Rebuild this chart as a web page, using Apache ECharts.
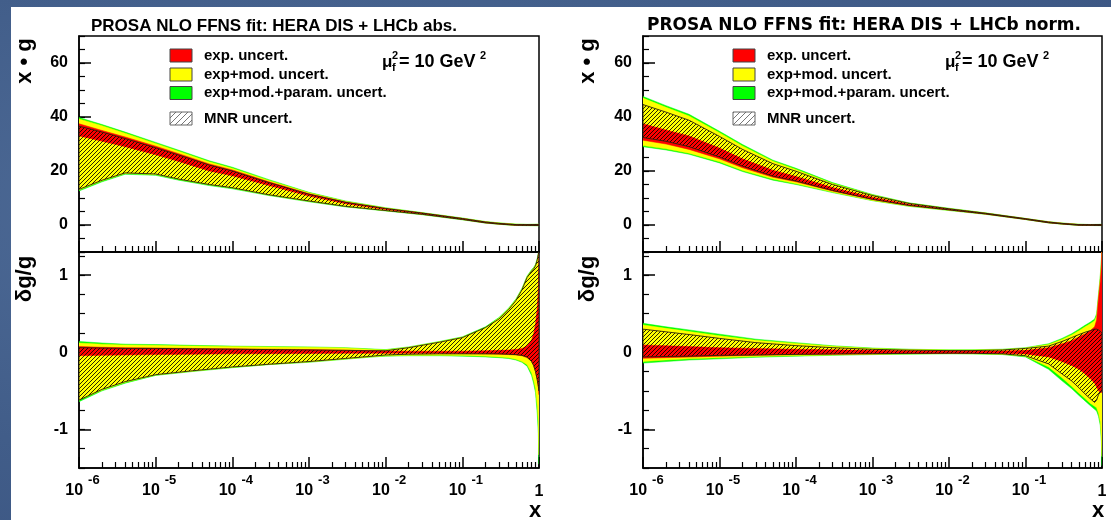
<!DOCTYPE html>
<html>
<head>
<meta charset="utf-8">
<script src="https://cdn.jsdelivr.net/npm/echarts@6/dist/echarts.min.js"></script>
<style>
  html, body { margin: 0; padding: 0; }
  body {
    width: 1111px; height: 520px; overflow: hidden; position: relative;
    background: radial-gradient(ellipse at 30% 40%, #506d99 0%, #415d89 60%, #3b5582 100%);
  }
  #paper { position: absolute; left: 11px; top: 7px; width: 1100px; height: 513px; background: #fff; }
  #chart { position: absolute; left: 0; top: 0; width: 1111px; height: 520px; }
</style>
</head>
<body>
<div id="paper"></div>
<div id="chart"></div>
<script>
  // x sampling of the two plot rows
  const xTop = [1e-6, 2e-6, 4e-6, 1e-5, 2e-5, 5e-5, 1e-4, 3e-4, 1e-3, 3e-3, 1e-2, 3e-2, 0.1, 0.2, 0.3, 0.5, 0.7, 1]
  const xBot = [1e-6, 2e-6, 4e-6, 1e-5, 3e-5, 1e-4, 3e-4, 1e-3, 3e-3, 6e-3, 1e-2, 2e-2, 5e-2, 0.1, 0.2, 0.3, 0.4, 0.5, 0.6, 0.7, 0.8, 0.85, 0.9, 0.95, 0.98, 1]

  // x*g bands [lo, hi], HERA DIS + LHCb abs.
  const absTopGreen = [[12.6,39.8],[16.0,37.2],[18.8,34.4],[18.4,30.6],[16.6,27.7],[14.6,23.8],[13.4,21.4],[10.9,16.8],[8.6,12.1],[6.7,8.9],[5.2,6.4],[3.8,4.6],[1.9,2.6],[0.7,1.3],[0.25,0.8],[-0.2,0.35],[-0.25,0.25],[-0.3,0.3]]
  const absTopYellow = [[13.0,39.3],[16.4,36.8],[19.1,34.0],[18.7,30.2],[16.9,27.3],[14.9,23.4],[13.7,21.0],[11.1,16.5],[8.8,11.9],[6.85,8.75],[5.3,6.3],[3.9,4.5],[2.0,2.5],[0.75,1.25],[0.3,0.75],[-0.15,0.3],[-0.2,0.2],[-0.25,0.25]]
  const absTopRed = [[33.0,37.5],[31.0,35.0],[29.0,32.6],[26.0,29.2],[23.5,26.4],[20.0,22.6],[18.2,20.4],[14.6,16.0],[10.7,11.6],[7.9,8.5],[5.7,6.1],[4.1,4.4],[2.15,2.4],[0.85,1.1],[0.4,0.6],[-0.05,0.15],[-0.1,0.1],[-0.15,0.15]]
  const absTopMnr = [[13.2,36.6],[16.6,34.4],[19.3,32.0],[18.9,28.6],[17.0,25.9],[15.0,22.2],[13.8,20.0],[11.2,15.7],[8.9,11.4],[6.9,8.4],[5.35,6.1],[3.95,4.4],[2.05,2.4],[0.8,1.1],[0.35,0.6],[-0.1,0.15],[-0.15,0.15],[-0.2,0.2]]

  // x*g bands, HERA DIS + LHCb norm.
  const normTopGreen = [[29.0,47.6],[27.8,44.2],[26.2,41.0],[23.0,34.7],[19.8,29.8],[16.6,24.0],[15.0,21.0],[12.0,15.7],[9.0,11.3],[6.9,8.2],[5.35,6.2],[3.95,4.5],[2.0,2.45],[0.75,1.25],[0.3,0.75],[-0.15,0.3],[-0.2,0.2],[-0.25,0.25]]
  const normTopYellow = [[29.4,47.0],[28.2,43.6],[26.6,40.4],[23.4,34.2],[20.2,29.3],[17.0,23.6],[15.3,20.6],[12.2,15.4],[9.1,11.1],[7.0,8.1],[5.45,6.1],[4.0,4.45],[2.05,2.4],[0.8,1.2],[0.35,0.7],[-0.1,0.25],[-0.15,0.15],[-0.2,0.2]]
  const normTopRed = [[31.4,37.5],[30.0,35.2],[28.0,33.0],[24.5,28.5],[21.2,24.5],[17.7,20.3],[16.0,18.0],[12.6,13.9],[9.4,10.3],[7.2,7.7],[5.6,5.9],[4.1,4.3],[2.1,2.3],[0.85,1.1],[0.4,0.6],[-0.05,0.15],[-0.1,0.1],[-0.15,0.15]]
  const normTopMnr = [[32.4,44.6],[31.0,41.8],[29.0,38.8],[25.2,32.8],[21.8,28.0],[18.1,22.7],[16.3,19.9],[12.8,15.0],[9.5,10.9],[7.25,8.0],[5.6,6.0],[4.1,4.35],[2.1,2.35],[0.85,1.1],[0.4,0.6],[-0.1,0.15],[-0.15,0.15],[-0.2,0.2]]

  // dg/g bands, abs.
  const absBotGreen = [[-0.64,0.14],[-0.50,0.12],[-0.40,0.105],[-0.30,0.10],[-0.25,0.09],[-0.20,0.08],[-0.16,0.075],[-0.13,0.07],[-0.09,0.06],[-0.065,0.045],[-0.05,0.035],[-0.045,0.07],[-0.045,0.14],[-0.05,0.20],[-0.06,0.33],[-0.07,0.45],[-0.08,0.57],[-0.10,0.69],[-0.13,0.83],[-0.18,0.99],[-0.30,1.07],[-0.40,1.10],[-0.52,1.14],[-0.80,1.22],[-1.05,1.28],[-1.45,1.36]]
  const absBotYellow = [[-0.62,0.12],[-0.49,0.105],[-0.39,0.095],[-0.295,0.09],[-0.245,0.082],[-0.195,0.075],[-0.158,0.07],[-0.125,0.065],[-0.086,0.055],[-0.062,0.04],[-0.046,0.03],[-0.04,0.065],[-0.038,0.135],[-0.042,0.195],[-0.05,0.32],[-0.06,0.44],[-0.07,0.56],[-0.09,0.68],[-0.12,0.82],[-0.16,0.98],[-0.27,1.06],[-0.36,1.09],[-0.47,1.13],[-0.70,1.21],[-0.90,1.27],[-1.33,1.35]]
  const absBotRed = [[-0.045,0.075],[-0.04,0.065],[-0.035,0.06],[-0.03,0.055],[-0.025,0.05],[-0.02,0.045],[-0.018,0.04],[-0.016,0.035],[-0.014,0.028],[-0.013,0.022],[-0.012,0.018],[-0.012,0.015],[-0.013,0.014],[-0.015,0.015],[-0.02,0.02],[-0.025,0.025],[-0.03,0.03],[-0.035,0.035],[-0.045,0.05],[-0.07,0.08],[-0.12,0.16],[-0.17,0.24],[-0.25,0.36],[-0.36,0.58],[-0.45,0.82],[-0.55,1.35]]
  const absBotMnr = [[-0.62,0.06],[-0.48,0.055],[-0.38,0.05],[-0.29,0.05],[-0.24,0.045],[-0.19,0.04],[-0.155,0.035],[-0.12,0.03],[-0.08,0.025],[-0.055,0.02],[-0.035,0.02],[-0.025,0.06],[-0.02,0.13],[-0.02,0.19],[-0.02,0.32],[-0.02,0.43],[-0.025,0.55],[-0.03,0.67],[-0.04,0.81],[-0.06,0.97],[-0.12,1.05],[-0.17,1.08],[-0.25,1.12],[-0.36,1.2],[-0.44,1.27],[-0.5,1.35]]

  // dg/g bands, norm.
  const normBotGreen = [[-0.14,0.375],[-0.12,0.33],[-0.10,0.29],[-0.085,0.235],[-0.065,0.17],[-0.05,0.125],[-0.04,0.085],[-0.03,0.055],[-0.024,0.04],[-0.022,0.035],[-0.02,0.032],[-0.022,0.033],[-0.03,0.04],[-0.06,0.06],[-0.22,0.11],[-0.37,0.18],[-0.47,0.24],[-0.56,0.3],[-0.63,0.35],[-0.69,0.39],[-0.74,0.43],[-0.76,0.5],[-0.83,0.75],[-0.95,1.0],[-1.15,1.2],[-1.47,1.35]]
  const normBotYellow = [[-0.12,0.355],[-0.10,0.31],[-0.085,0.27],[-0.07,0.215],[-0.055,0.155],[-0.043,0.115],[-0.035,0.078],[-0.026,0.05],[-0.02,0.036],[-0.019,0.032],[-0.017,0.03],[-0.019,0.03],[-0.026,0.036],[-0.05,0.055],[-0.19,0.1],[-0.33,0.165],[-0.44,0.225],[-0.53,0.28],[-0.6,0.33],[-0.66,0.37],[-0.7,0.41],[-0.72,0.47],[-0.79,0.72],[-0.9,0.97],[-1.1,1.17],[-1.35,1.33]]
  const normBotRed = [[-0.078,0.095],[-0.07,0.085],[-0.062,0.075],[-0.05,0.06],[-0.04,0.05],[-0.03,0.04],[-0.025,0.033],[-0.02,0.025],[-0.016,0.02],[-0.015,0.018],[-0.014,0.016],[-0.014,0.016],[-0.016,0.018],[-0.022,0.025],[-0.06,0.06],[-0.12,0.11],[-0.17,0.15],[-0.22,0.2],[-0.28,0.24],[-0.34,0.28],[-0.40,0.33],[-0.45,0.42],[-0.5,0.7],[-0.52,0.92],[-0.52,1.1],[-0.52,1.35]]
  const normBotMnr = [[-0.06,0.30],[-0.055,0.265],[-0.05,0.23],[-0.04,0.18],[-0.035,0.125],[-0.027,0.086],[-0.022,0.06],[-0.018,0.038],[-0.014,0.028],[-0.013,0.024],[-0.012,0.022],[-0.013,0.022],[-0.02,0.03],[-0.045,0.05],[-0.15,0.08],[-0.28,0.14],[-0.37,0.19],[-0.46,0.23],[-0.54,0.26],[-0.6,0.28],[-0.65,0.30],[-0.62,0.30],[-0.55,0.29],[-0.52,0.27],[-0.5,0.26],[-0.5,0.25]]

  // axis ticks and texts
  const decades = [1e-6, 1e-5, 1e-4, 1e-3, 1e-2, 1e-1, 1]
  const minorX = []
  decades.slice(0, -1).forEach(d => { for (let k = 2; k <= 9; k++) minorX.push(k * d) })
  const topTicks = [0, 20, 40, 60]
  const botTicks = [-1, 0, 1]
  const titles = ['PROSA NLO FFNS fit: HERA DIS + LHCb abs.', 'PROSA NLO FFNS fit: HERA DIS + LHCb norm.']
  const legendLabels = ['exp. uncert.', 'exp+mod. uncert.', 'exp+mod.+param. uncert.', 'MNR uncert.']

  const FF = '"Liberation Sans", Arial, Helvetica, sans-serif'
  const BLACK = '#000'

  // hatch for the MNR band
  function makeHatch(step, color, width) {
    const c = document.createElement('canvas')
    c.width = step; c.height = step
    const g = c.getContext('2d')
    g.strokeStyle = color
    g.lineWidth = width
    g.beginPath()
    g.moveTo(0, step); g.lineTo(step, 0)
    g.moveTo(-1, 1); g.lineTo(1, -1)
    g.moveTo(step - 1, step + 1); g.lineTo(step + 1, step - 1)
    g.stroke()
    return c
  }
  const hatchFill = { image: makeHatch(4, 'rgba(0,0,0,0.85)', 1), repeat: 'repeat' }
  const legendHatch = { image: makeHatch(6, '#777', 1), repeat: 'repeat' }

  const grids = [
    { left: 79, top: 36, width: 460, height: 216 },
    { left: 79, top: 252, width: 460, height: 216 },
    { left: 643, top: 36, width: 459, height: 216 },
    { left: 643, top: 252, width: 459, height: 216 }
  ].map(g => Object.assign(g, { show: true, borderColor: BLACK, borderWidth: 1.5, backgroundColor: 'transparent' }))

  const line = { color: BLACK, width: 1.5 }

  function xMain(grid, labels) {
    return {
      type: 'log', logBase: 10, gridIndex: grid, position: 'bottom', min: 1e-6, max: 1,
      axisLine: { show: true, onZero: false, lineStyle: line },
      axisTick: { show: true, inside: true, length: 11, customValues: decades, lineStyle: line },
      axisLabel: {
        show: labels, customValues: decades, margin: 14, hideOverlap: false,
        formatter: v => {
          const e = Math.round(Math.log10(v))
          return e === 0 ? '{o|1}' : '{b|10}{s|' + e + '}'
        },
        rich: {
          b: { fontSize: 16, fontWeight: 'bold', fontFamily: FF, color: BLACK, lineHeight: 18, padding: [0, 0, 0, 7] },
          s: { fontSize: 13, fontWeight: 'bold', fontFamily: FF, color: BLACK, lineHeight: 14, padding: [0, 0, 22, 5] },
          o: { fontSize: 16, fontWeight: 'bold', fontFamily: FF, color: BLACK, lineHeight: 20 }
        }
      },
      splitLine: { show: false }
    }
  }
  function xMinor(grid) {
    return {
      type: 'log', logBase: 10, gridIndex: grid, position: 'bottom', min: 1e-6, max: 1,
      axisLine: { show: false, onZero: false },
      axisTick: { show: true, inside: true, length: 6, customValues: minorX, lineStyle: { color: BLACK, width: 1.2 } },
      axisLabel: { show: false },
      splitLine: { show: false }
    }
  }
  function yMain(grid, min, max, ticks) {
    return {
      type: 'value', gridIndex: grid, position: 'left', min: min, max: max,
      axisLine: { show: true, onZero: false, lineStyle: line },
      axisTick: { show: true, inside: true, length: 12, customValues: ticks, lineStyle: line },
      axisLabel: { show: true, customValues: ticks, margin: 11, color: BLACK, fontSize: 16, fontWeight: 'bold', fontFamily: FF },
      splitLine: { show: false }
    }
  }
  function yMinor(grid, min, max, step) {
    return {
      type: 'value', gridIndex: grid, position: 'left', min: min, max: max, interval: step,
      axisLine: { show: false, onZero: false },
      axisTick: { show: true, inside: true, length: 6, lineStyle: { color: BLACK, width: 1.2 } },
      axisLabel: { show: false },
      splitLine: { show: false }
    }
  }

  const xAxis = [], yAxis = []
  for (let g = 0; g < 4; g++) {
    const bottomRow = g % 2 === 1
    xAxis.push(xMain(g, bottomRow), xMinor(g))
    if (bottomRow) yAxis.push(yMain(g, -1.5, 1.3, botTicks), yMinor(g, -1.5, 1.3, 0.25))
    else yAxis.push(yMain(g, -10, 70, topTicks), yMinor(g, -10, 70, 5))
  }

  function band(name, grid, xs, rows, fill, hatch) {
    return {
      type: 'custom', name: name, coordinateSystem: 'cartesian2d',
      xAxisIndex: 2 * grid, yAxisIndex: 2 * grid,
      silent: true, animation: false,
      data: [[xs[0], rows[0][0]]],
      renderItem: function (params, api) {
        const pts = []
        xs.forEach((x, i) => pts.push(api.coord([x, rows[i][1]])))
        for (let i = xs.length - 1; i >= 0; i--) pts.push(api.coord([xs[i], rows[i][0]]))
        const cs = params.coordSys
        return {
          type: 'polygon',
          shape: { points: pts },
          style: hatch
            ? { fill: hatchFill, stroke: '#2a1f08', lineWidth: 0.9 }
            : { fill: fill, stroke: fill, lineWidth: 0.5 },
          clipPath: { type: 'rect', shape: { x: cs.x, y: cs.y, width: cs.width, height: cs.height } }
        }
      }
    }
  }

  const panels = [
    [absTopGreen, absTopYellow, absTopRed, absTopMnr, absBotGreen, absBotYellow, absBotRed, absBotMnr],
    [normTopGreen, normTopYellow, normTopRed, normTopMnr, normBotGreen, normBotYellow, normBotRed, normBotMnr]
  ]
  const series = []
  panels.forEach((p, k) => {
    const gt = 2 * k, gb = 2 * k + 1
    series.push(
      band(legendLabels[2], gt, xTop, p[0], '#00ff00'),
      band(legendLabels[1], gt, xTop, p[1], '#ffff00'),
      band(legendLabels[0], gt, xTop, p[2], '#ff0000'),
      band(legendLabels[3], gt, xTop, p[3], null, true),
      band(legendLabels[2], gb, xBot, p[4], '#00ff00'),
      band(legendLabels[1], gb, xBot, p[5], '#ffff00'),
      band(legendLabels[0], gb, xBot, p[6], '#ff0000'),
      band(legendLabels[3], gb, xBot, p[7], null, true)
    )
  })

  // legends, scale text and axis titles
  const graphic = []
  function txt(x, y, text, size, align, extra) {
    return Object.assign({
      type: 'text', x: x, y: y,
      style: { text: text, font: 'bold ' + size + 'px ' + FF, fill: BLACK, textAlign: align || 'left', textVerticalAlign: 'middle' }
    }, extra || {})
  }
  ;[0, 563].forEach(ox => {
    const rows = [['#ff0000', 55.5], ['#ffff00', 74.5], ['#00ff00', 93]]
    rows.forEach((r, i) => {
      graphic.push({ type: 'rect', shape: { x: 170 + ox, y: r[1] - 6.5, width: 22, height: 13 }, style: { fill: r[0], stroke: '#444', lineWidth: 1 } })
      graphic.push(txt(204 + ox, r[1], legendLabels[i], 15))
    })
    graphic.push({ type: 'rect', shape: { x: 170 + ox, y: 112, width: 22, height: 13 }, style: { fill: legendHatch, stroke: '#666', lineWidth: 1 } })
    graphic.push(txt(204 + ox, 118.5, legendLabels[3], 15))

    graphic.push(txt(382 + ox, 62, 'μ', 17))
    graphic.push(txt(392 + ox, 56, '2', 11))
    graphic.push(txt(392 + ox, 68, 'f', 11))
    graphic.push(txt(399 + ox, 62, '= 10 GeV', 18))
    graphic.push(txt(480 + ox, 56, '2', 11))

    graphic.push(txt(25 + ox, 61, 'x • g', 22, 'center', { rotation: Math.PI / 2 }))
    graphic.push(txt(25 + ox, 279, 'δg/g', 22, 'center', { rotation: Math.PI / 2 }))
    graphic.push(txt(535 + ox, 511, 'x', 22, 'center'))
  })

  const chart = echarts.init(document.getElementById('chart'), null, { renderer: 'canvas' })
  chart.setOption({
    animation: false,
    backgroundColor: 'transparent',
    title: [
      { text: titles[0], left: 269, top: 21, textAlign: 'center', textVerticalAlign: 'middle',
        textStyle: { fontFamily: FF, fontWeight: 'bold', fontSize: 17, color: BLACK } },
      { text: titles[1], left: 859, top: 21, textAlign: 'center', textVerticalAlign: 'middle',
        textStyle: { fontFamily: '"DejaVu Sans", sans-serif', fontWeight: 'bold', fontSize: 17, color: BLACK } }
    ],
    grid: grids,
    xAxis: xAxis,
    yAxis: yAxis,
    series: series,
    graphic: graphic
  })
</script>
</body>
</html>
